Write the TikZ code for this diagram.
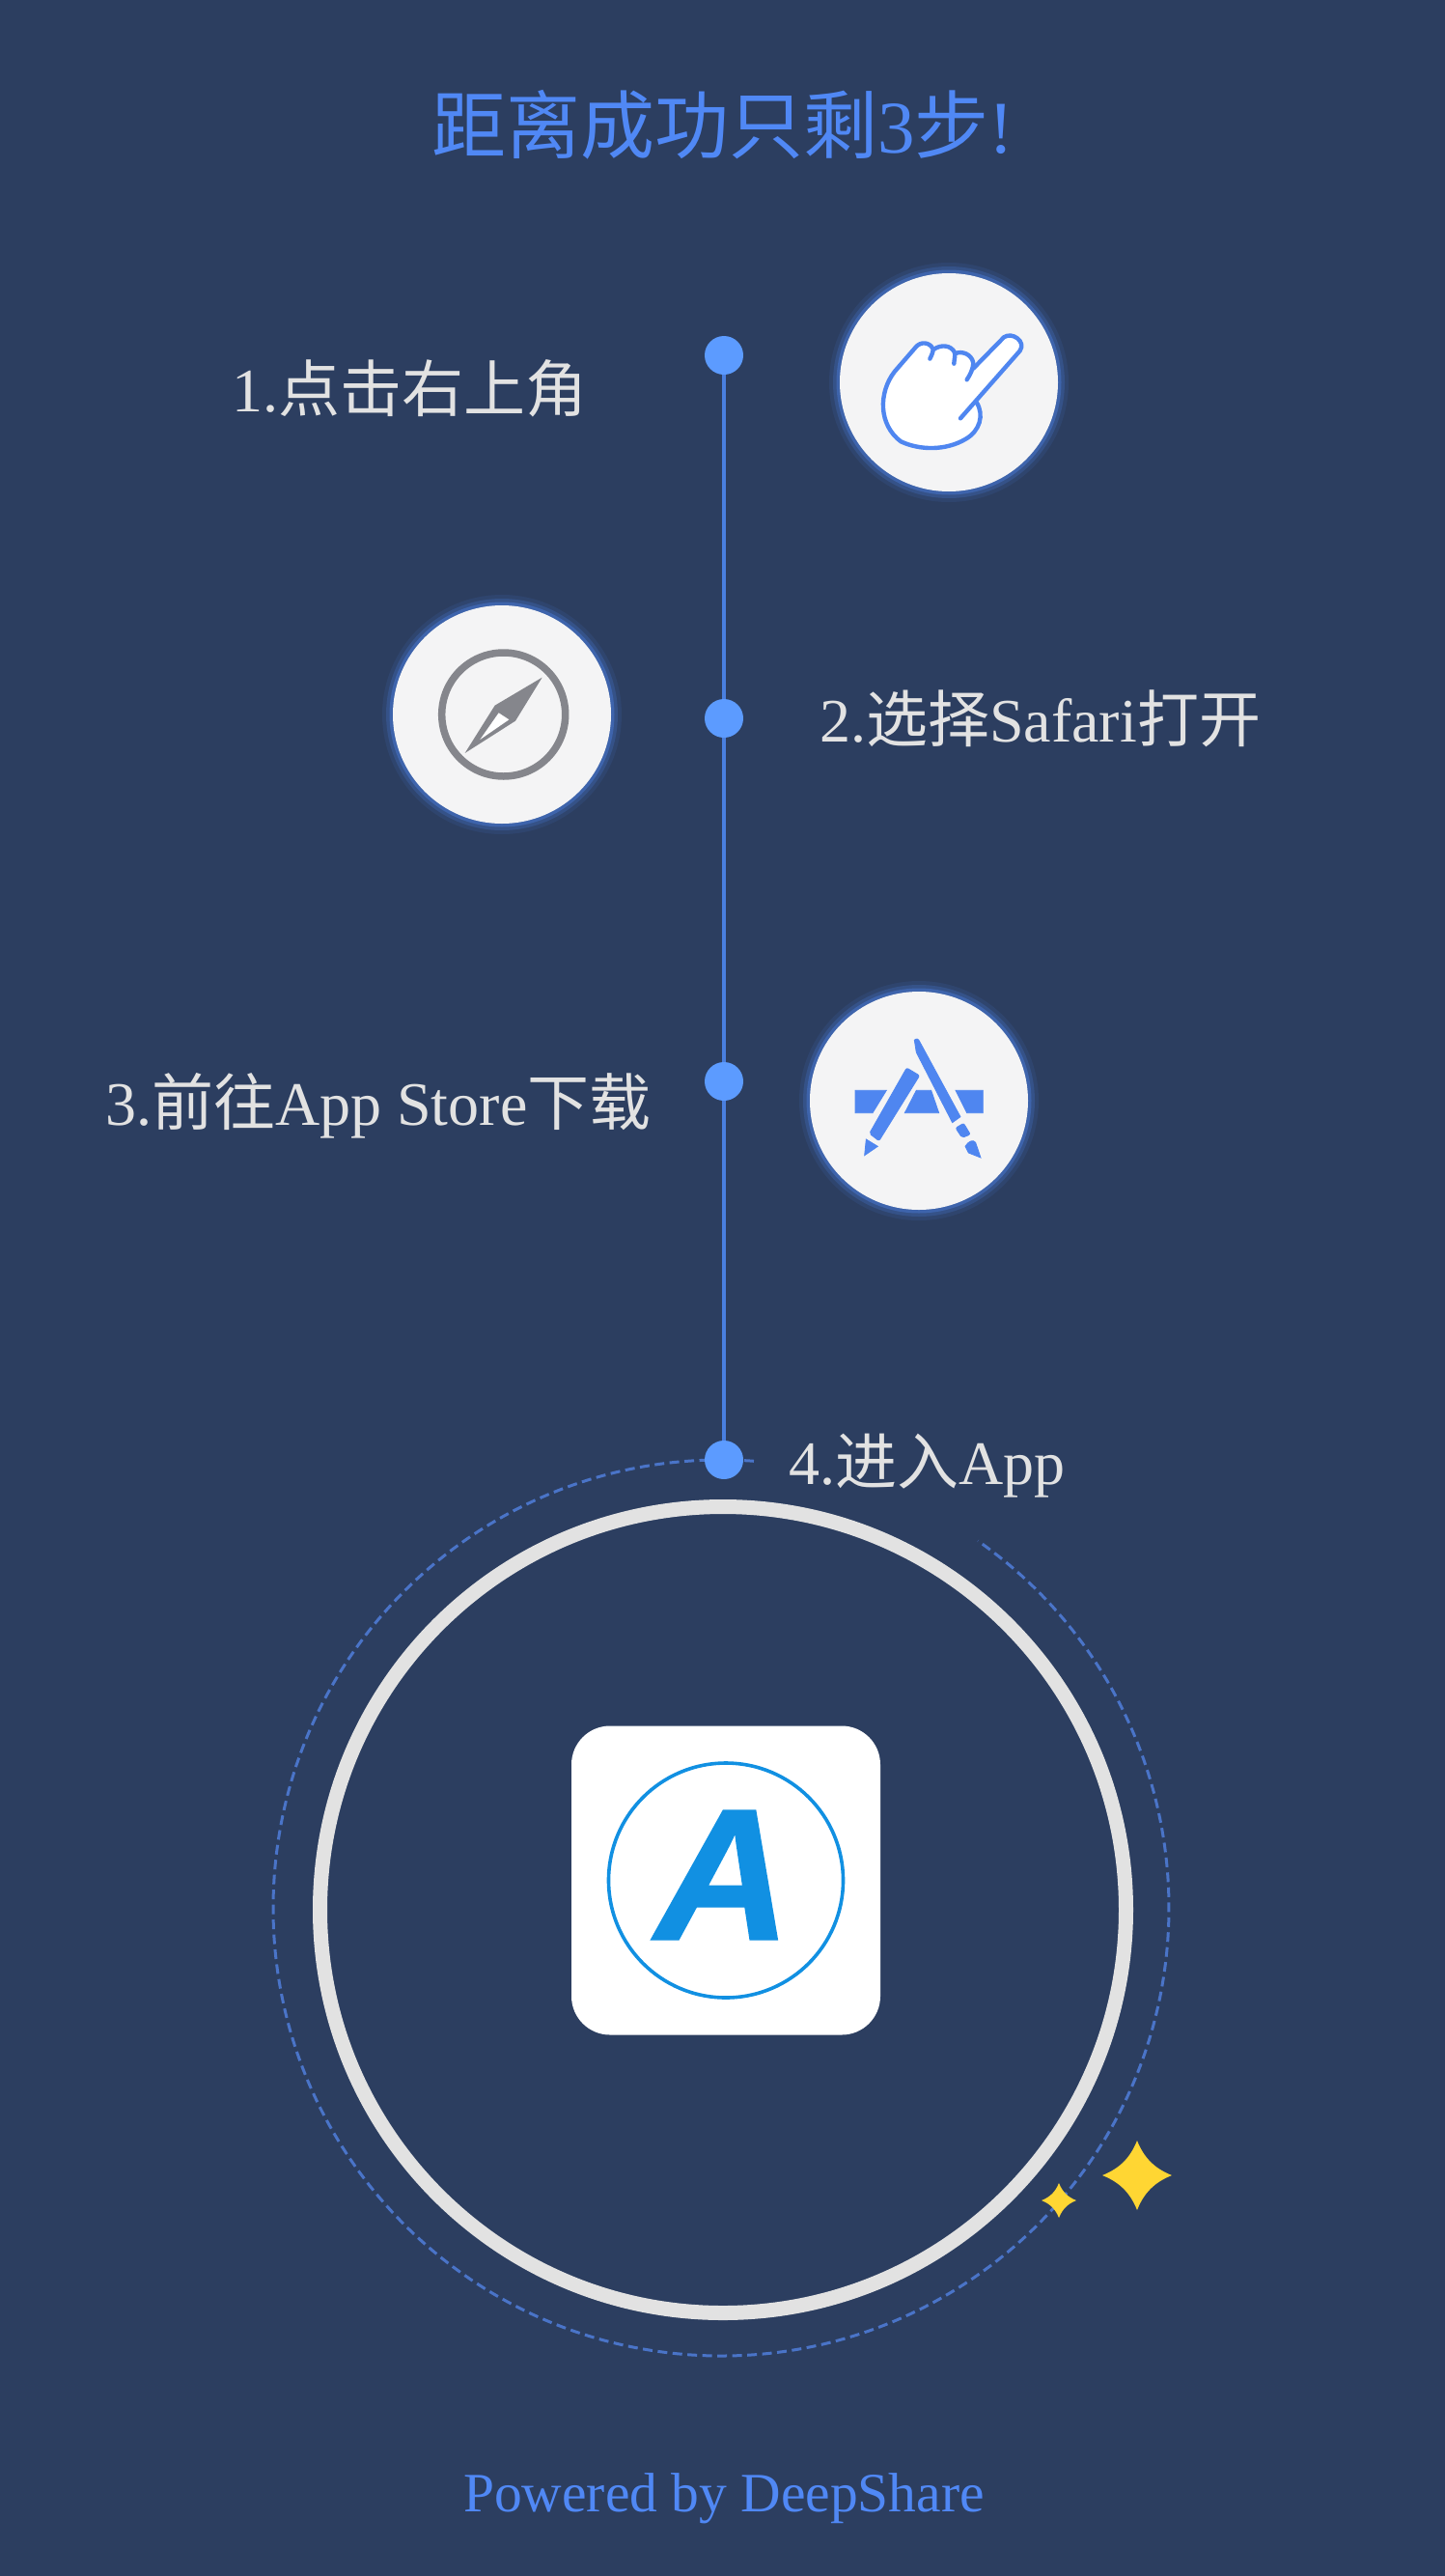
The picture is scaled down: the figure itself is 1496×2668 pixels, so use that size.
\documentclass[tikz,border=0pt]{standalone}
\usepackage{fontspec}
\usepackage{xcolor}
\setmainfont{Liberation Serif}
\newfontfamily\cjk{Noto Sans CJK SC}
\newfontfamily\logofont{Liberation Sans}[BoldItalicFeatures={FakeBold=1}]
\usetikzlibrary{
  positioning,
  calc
}
\definecolor{pagebg}{HTML}{2C3E60}
\definecolor{stemblue}{HTML}{4A7FDF}
\definecolor{dotblue}{HTML}{5C9BFF}
\definecolor{titleblue}{HTML}{5088F5}
\definecolor{orbitblue}{HTML}{4A74C8}
\definecolor{labelgray}{HTML}{E2E2E2}
\definecolor{iconfill}{HTML}{F4F4F5}
\definecolor{glowblue}{HTML}{4F86F0}
\definecolor{needlegray}{HTML}{85868C}
\definecolor{logoblue}{HTML}{1190E2}
\definecolor{sparkyellow}{HTML}{FFD633}

\begin{document}
\begin{tikzpicture}[
  x=1pt, y=1pt,
  stem/.style={draw=stemblue, line width=3.6},
  stepdot/.style={circle, fill=dotblue, minimum size=40, inner sep=0},
  steplbl/.style={font=\fontsize{64}{64}\selectfont, text=labelgray, anchor=west, inner sep=0},
  bluetxt/.style={text=titleblue, inner sep=0},
  iconbg/.style={circle, fill=iconfill, minimum size=226, inner sep=0,
                 preaction={draw=glowblue, line width=22, opacity=0.10},
                 preaction={draw=glowblue, line width=14, opacity=0.20},
                 preaction={draw=glowblue, line width=7, opacity=0.35}},
  zoomed/.style={x=0.3333pt, y=-0.3333pt},
  handline/.style={draw=glowblue, line width=4.4, line cap=round, line join=round},
  markfill/.style={fill=glowblue, draw=glowblue, line width=0.8},
  orbit/.style={draw=orbitblue, line width=3, dash pattern=on 10pt off 5.5pt},
  sparkle/.pic={
    \fill[sparkyellow] (0,1) .. controls (0.2,0.5) and (0.5,0.2) .. (1,0)
      .. controls (0.5,-0.2) and (0.2,-0.5) .. (0,-1)
      .. controls (-0.2,-0.5) and (-0.5,-0.2) .. (-1,0)
      .. controls (-0.5,0.2) and (-0.2,0.5) .. cycle;
  },
]
  \fill[pagebg, overlay] (-4,4) rectangle (1500,-2672);
  \useasboundingbox (0,0) rectangle (1496,-2668);

  % Title
  \node[bluetxt, font=\fontsize{77}{77}\selectfont] (title) at (749,-129) {{\cjk 距离成功只剩}3{\cjk 步}!};

  % Big rings
  \coordinate (orbitc) at (747,-1976);
  \draw[orbit] ($(orbitc)+(85.8:464)$) arc[start angle=85.8, end angle=415, radius=464];
  \node[circle, draw=labelgray, line width=15, minimum size=835, inner sep=0] (ring) at (749,-1978) {};

  % Timeline
  \node[stepdot] (dot1) at (750,-368) {};
  \node[stepdot] (dot2) at (750,-744) {};
  \node[stepdot] (dot3) at (750,-1120) {};
  \node[stepdot] (dot4) at (750,-1512) {};
  \draw[stem] (dot1) -- (dot2);
  \draw[stem] (dot2) -- (dot3);
  \draw[stem] (dot3) -- (dot4);

  % Step labels
  \node[steplbl] (lbl1) at (240,-402) {1.{\cjk 点击右上角}};
  \node[steplbl] (lbl2) at (849,-744) {2.{\cjk 选择}Safari{\cjk 打开}};
  \node[steplbl] (lbl3) at (109,-1145) {3.{\cjk 前往}App Store{\cjk 下载}};
  \node[steplbl] (lbl4) at (817,-1518) {4.{\cjk 进入}App};

  % Icon discs
  \node[iconbg] (hand) at (983,-396) {};
  \node[iconbg] (compass) at (520,-740) {};
  \node[iconbg] (store) at (952,-1140) {};

  % Hand
  \begin{scope}[shift={(820,-250)}, zoomed]
    \fill[white] (300,450) -- (385,330) .. controls (400,310) and (430,312) .. (445,335)
      .. controls (465,320) and (495,325) .. (512,345)
      .. controls (530,340) and (560,350) .. (570,385)
      -- (660,298) .. controls (685,280) and (730,310) .. (710,340)
      -- (575,500) .. controls (600,540) and (585,590) .. (540,615)
      .. controls (480,650) and (400,650) .. (340,622)
      .. controls (270,580) and (270,500) .. cycle;
    \draw[handline]
      (430,365) .. controls (440,345) and (440,340) .. (440,335)
      .. controls (430,312) and (400,310) .. (385,330) -- (320,405)
      .. controls (270,470) and (270,570) .. (340,622)
      .. controls (400,650) and (480,650) .. (540,615)
      .. controls (585,590) and (600,540) .. (575,500);
    \draw[handline]
      (443,335) .. controls (465,320) and (495,322) .. (507,345) .. controls (510,355) and (505,370) .. (505,380);
    \draw[handline]
      (510,348) .. controls (530,340) and (560,350) .. (565,378) .. controls (565,395) and (555,415) .. (545,430);
    \draw[handline]
      (565,395) -- (660,298) .. controls (685,280) and (730,310) .. (710,340) -- (525,550);
  \end{scope}

  % Compass
  \node[circle, draw=needlegray, line width=7.5, minimum size=128, inner sep=0] (dial) at (521.7,-740) {};
  \begin{scope}[shift={(370,-600)}, zoomed]
    \fill[needlegray] (575,305) -- (428,392) -- (335,540) -- (492,440) -- cycle;
    \fill[white] (440,415) -- (472,436) -- (382,498) -- cycle;
  \end{scope}

  % App Store mark
  \begin{scope}[shift={(800,-1000)}, zoomed]
    \path[markfill] (258,388) -- (355,388) -- (312,458) -- (258,458) -- cycle;
    \path[markfill] (448,388) -- (494,388) -- (518,458) -- (412,458) -- cycle;
    \path[markfill] (570,388) -- (655,388) -- (655,458) -- (605,458) -- cycle;
    \path[markfill, rounded corners=2pt] (418,318) -- (458,342) -- (332,545) -- (302,522) -- cycle;
    \path[markfill] (292,540) -- (328,562) -- (287,590) -- cycle;
    \path[markfill] (442,232) .. controls (447,225) and (455,228) .. (458,236) -- (585,470) -- (560,488) -- (448,270) -- cycle;
    \path[markfill, rounded corners=2pt] (570,505) -- (595,490) -- (616,525) -- (590,535) -- cycle;
    \path[markfill] (600,562) .. controls (610,545) and (625,540) .. (632,550) -- (648,597) -- (610,582) -- cycle;
  \end{scope}

  % App tile
  \node[rectangle, rounded corners=40, fill=white, minimum size=320, inner sep=0] (app) at (752,-1947.5) {};
  \node[circle, draw=logoblue, line width=3.6, minimum size=243, inner sep=0] (badge) at (app.center) {};
  \node[text=logoblue, inner sep=0, font=\logofont\bfseries\itshape\fontsize{194}{194}\selectfont] (logo) at (749,-1942) {A};

  % Sparkles
  \path (1178,-2253) pic[scale=36] {sparkle};
  \path (1097,-2279) pic[scale=18] {sparkle};

  % Footer
  \node[bluetxt, font=\fontsize{57.5}{58}\selectfont] (footer) at (750,-2588) {Powered by DeepShare};

\end{tikzpicture}
\end{document}
